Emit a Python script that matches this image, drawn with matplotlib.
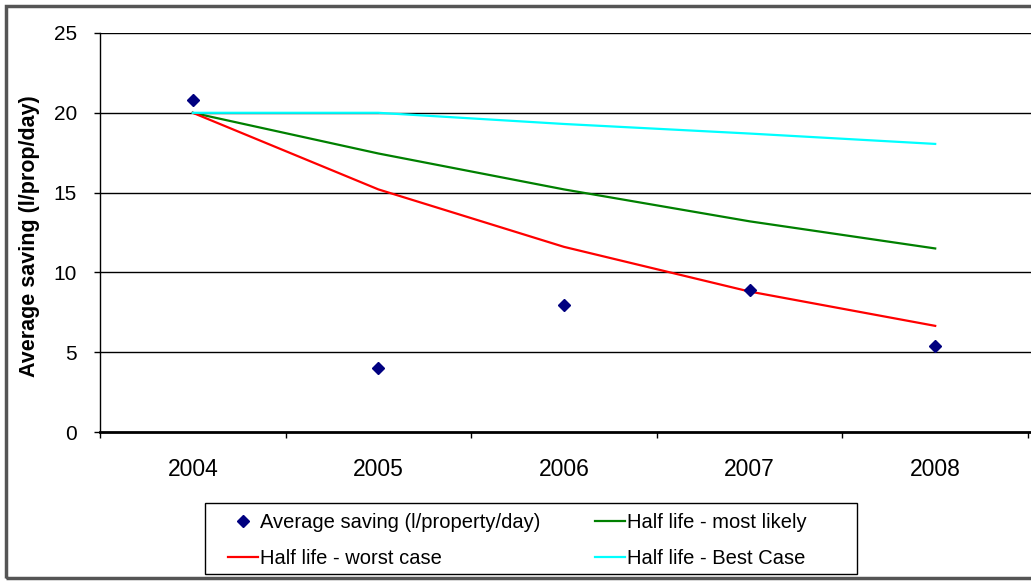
import matplotlib
matplotlib.use("Agg")
import numpy as np
import matplotlib.pyplot as plt
from matplotlib.patches import Rectangle

plt.rcParams['font.family'] = ['Liberation Sans', 'DejaVu Sans']

# Datos
years = ["2004", "2005", "2006", "2007", "2008"]
avg_saving = [20.8, 4.0, 7.95, 8.9, 5.4]
most_likely = [20.0, 17.45, 15.2, 13.2, 11.5]
worst_case = [20.0, 15.2, 11.6, 8.8, 6.65]
best_case = [20.0, 20.0, 19.3, 18.7, 18.05]

x = np.arange(len(years))

W, H = 1031, 581
fig = plt.figure(figsize=(W / 100, H / 100), dpi=100)
ax = fig.add_axes([100 / W, 1 - 432 / H, 931 / W, 399 / H])

# Líneas de rejilla tipo Excel
for v in [5, 10, 15, 20, 25]:
    ax.axhline(v, color='black', linewidth=1.0, zorder=1)

p_avg, = ax.plot(x, avg_saving, linestyle='none', marker='D', markersize=6.5,
                 color='#000080', label="Average saving (l/property/day)", zorder=4)
p_lik, = ax.plot(x, most_likely, color='#008000', linewidth=1.6,
                 label="Half life - most likely", zorder=3)
p_wor, = ax.plot(x, worst_case, color='#FF0000', linewidth=1.6,
                 label="Half life - worst case", zorder=3)
p_bes, = ax.plot(x, best_case, color='#00FFFF', linewidth=1.6,
                 label="Half life - Best Case", zorder=3)

ax.set_xlim(-0.5, len(years) - 0.5 + 3 / 928 * 5)
ax.set_ylim(0, 25)
ax.set_yticks([0, 5, 10, 15, 20, 25])
ax.tick_params(axis='y', labelsize=15, length=4.5, width=1, pad=12)

# Marcas entre categorías, etiquetas en el centro
ax.set_xticks(np.arange(-0.5, len(years), 1.0))
ax.set_xticklabels([])
ax.set_xticks(x, minor=True)
ax.set_xticklabels(years, minor=True)
ax.tick_params(axis='x', which='major', length=4.5, width=1)
ax.tick_params(axis='x', which='minor', length=0, labelsize=16.5, pad=19)

ax.spines['top'].set_visible(False)
ax.spines['right'].set_visible(False)
ax.spines['left'].set_linewidth(1.0)
ax.spines['bottom'].set_linewidth(2.0)

ax.set_ylabel("Average saving (l/prop/day)", fontsize=15.5, fontweight='bold')
ax.yaxis.set_label_coords(-0.0645, 0.49)

leg = fig.legend(handles=[p_avg, p_wor, p_lik, p_bes], ncol=2,
                 loc='upper left', bbox_to_anchor=(218 / W, 1 - 503 / H),
                 fontsize=14.5, frameon=False, borderpad=0,
                 handlelength=1.5, handletextpad=0.1, columnspacing=2.7,
                 labelspacing=0.85)

# Marco de la leyenda y borde exterior
fig.patches.append(Rectangle((205 / W, 1 - 574 / H), 652 / W, 71 / H,
                             transform=fig.transFigure, fill=False,
                             edgecolor='black', linewidth=1.0))
fig.patches.append(Rectangle((6 / W, 3 / H), 1.05, 1 - 9 / H,
                             transform=fig.transFigure, fill=False,
                             edgecolor='#555555', linewidth=2.5))

fig.savefig("out.png", dpi=100)
